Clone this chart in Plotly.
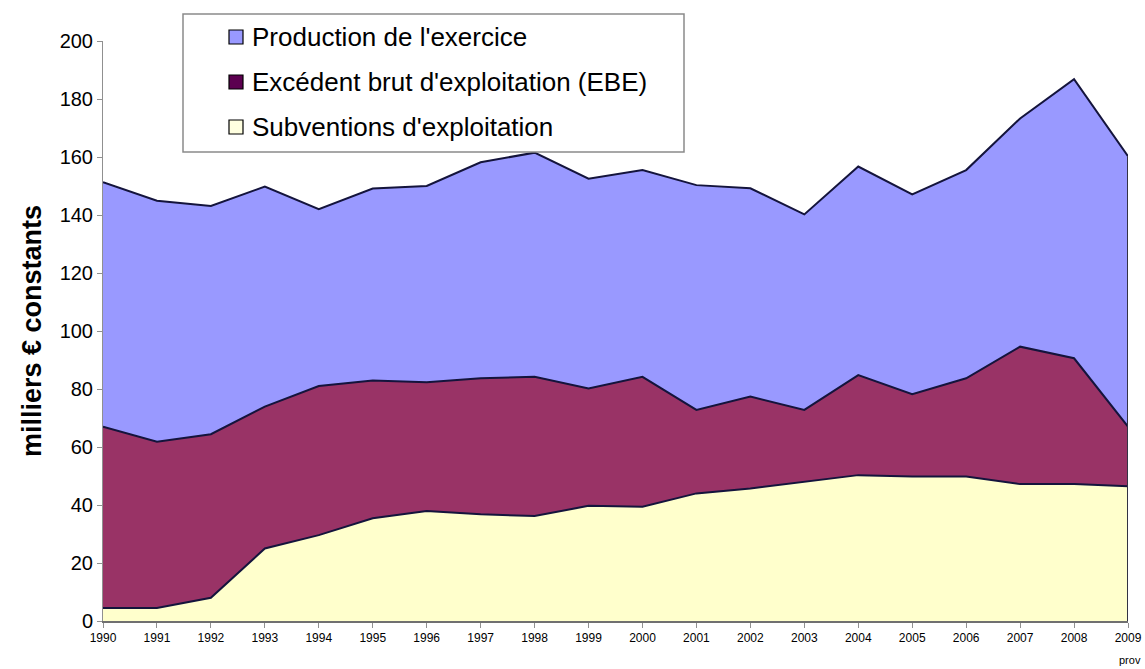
import plotly.graph_objects as go

years = list(range(1990, 2010))
production = [151.3, 144.9, 143.1, 149.8, 142.0, 149.1, 150.0, 158.2, 161.5, 152.5,
              155.5, 150.3, 149.2, 140.2, 156.7, 147.1, 155.5, 173.3, 186.8, 160.3]
ebe = [67.0, 61.8, 64.4, 73.9, 81.0, 82.9, 82.3, 83.7, 84.2, 80.2,
       84.2, 72.8, 77.4, 72.8, 84.8, 78.2, 83.7, 94.6, 90.6, 67.0]
subventions = [4.5, 4.5, 8.0, 25.0, 29.6, 35.4, 37.9, 36.8, 36.2, 39.7,
               39.4, 44.0, 45.7, 48.0, 50.3, 49.8, 49.8, 47.2, 47.2, 46.5]

series_names = ["Production de l'exercice", "Excédent brut d'exploitation (EBE)", "Subventions d'exploitation"]
fill_colors = ["#9999FF", "#993366", "#FFFFCC"]
legend_colors = ["#9999FF", "#5C0050", "#FFFFE0"]
y_ticks = list(range(0, 201, 20))

W, H = 1145, 669
L, R, T, B = 103, 17, 41, 48
pw, ph = W - L - R, H - T - B

def px2x(px):
    return (px - L) / pw

def py2y(py):
    return (H - B - py) / ph

fig = go.Figure()
for name, vals, col in zip(series_names, [production, ebe, subventions], fill_colors):
    fig.add_trace(go.Scatter(
        x=years, y=vals, mode="lines", fill="tozeroy", fillcolor=col,
        line=dict(color="#14143c", width=2), name=name, showlegend=False,
        hoverinfo="x+y"))

# right-edge outline of the areas
fig.add_shape(type="line", xref="x", yref="y", x0=years[-1], x1=years[-1],
              y0=0, y1=production[-1], line=dict(color="#333344", width=2))

# manual legend box
fig.add_shape(type="rect", xref="paper", yref="paper",
              x0=px2x(183), x1=px2x(684), y0=py2y(152), y1=py2y(14),
              line=dict(color="#8a8a8a", width=1.5), fillcolor="white", layer="above")
rows = [37, 82, 127]
for name, col, cy in zip(series_names, legend_colors, rows):
    fig.add_shape(type="rect", xref="paper", yref="paper",
                  x0=px2x(229), x1=px2x(243), y0=py2y(cy + 7), y1=py2y(cy - 7),
                  line=dict(color="black", width=1.2), fillcolor=col, layer="above")
    fig.add_annotation(x=px2x(250), y=py2y(cy), xref="paper", yref="paper",
                       text=name, showarrow=False, xanchor="left", yanchor="middle",
                       font=dict(family="Liberation Sans, Arial", size=26, color="black"))
fig.add_annotation(x=px2x(1130), y=py2y(660), xref="paper", yref="paper",
                   text="prov", showarrow=False, xanchor="center", yanchor="middle",
                   font=dict(family="Liberation Sans, Arial", size=11, color="black"))

fig.update_layout(
    width=W, height=H, margin=dict(l=L, r=R, t=T, b=B, autoexpand=False),
    paper_bgcolor="white", plot_bgcolor="white",
    xaxis=dict(range=[1990, 2009], tickvals=years, ticktext=[str(y) for y in years],
               automargin=False,
               showgrid=False, zeroline=False, showline=True, linecolor="#707070", linewidth=1.5,
               ticks="outside", ticklen=5, tickcolor="#909090",
               tickfont=dict(family="Liberation Sans Narrow, Liberation Sans, Arial", size=12, color="black")),
    yaxis=dict(range=[0, 200], tickvals=y_ticks, showgrid=False, zeroline=False,
               showline=True, linecolor="#909090", linewidth=1,
               ticks="outside", ticklen=5, tickcolor="#909090",
               tickfont=dict(family="Liberation Sans, Arial", size=20, color="black"),
               title=dict(text="<b>milliers € constants</b>", standoff=10,
                          font=dict(family="Liberation Sans, Arial", size=27, color="black"))),
    showlegend=False,
)

fig.write_html("out.html", config={"displayModeBar": False},
               post_script="document.body.style.margin='0';document.body.style.overflow='hidden';")
